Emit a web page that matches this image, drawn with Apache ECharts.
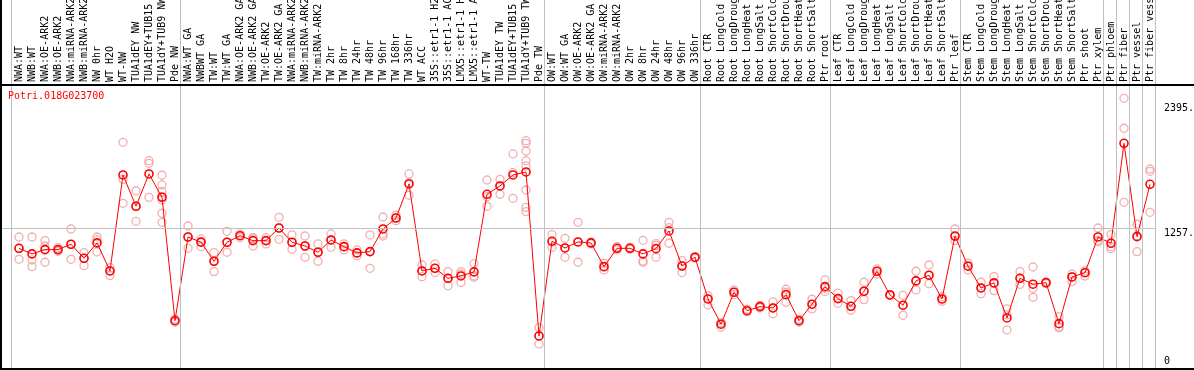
<!DOCTYPE html>
<html><head><meta charset="utf-8">
<script src="https://cdn.jsdelivr.net/npm/echarts@6/dist/echarts.min.js"></script>
<style>html,body{margin:0;padding:0;background:#fff}#c{width:1194px;height:370px}</style>
</head><body><div id="c"></div><script>
const geneId = 'Potri.018G023700';
const categories = [
 'NWA:WT','NWB:WT','NWA:OE-ARK2','NWB:OE-ARK2','NWA:miRNA-ARK2','NWB:miRNA-ARK2','NW 0hr','WT H2O','WT-NW','TUA1dEY NW','TUA1dEY+TUB15 NW','TUA1dY+TUB9 NW','Pde NW',
 'NWA:WT GA','NWBWT GA','TW:WT','TW:WT GA','NWA:OE-ARK2 GA','NWB:OE-ARK2 GA','TW:OE-ARK2','TW:OE-ARK2 GA','NWA:miRNA-ARK2','NWB:miRNA-ARK2','TW:miRNA-ARK2','TW 2hr','TW 8hr','TW 24hr','TW 48hr','TW 96hr','TW 168hr','TW 336hr','WT ACC','35S::etr1-1 H2O','35S::etr1-1 ACC','LMX5::etr1-1 H2O','LMX5::etr1-1 ACC','WT-TW','TUA1dEY TW','TUA1dEY+TUB15 TW','TUA1dY+TUB9 TW','Pde TW',
 'OW:WT','OW:WT GA','OW:OE-ARK2','OW:OE-ARK2 GA','OW:miRNA-ARK2','OW:miRNA-ARK2','OW 2hr','OW 8hr','OW 24hr','OW 48hr','OW 96hr','OW 336hr',
 'Root CTR','Root LongCold','Root LongDrought','Root LongHeat','Root LongSalt','Root ShortCold','Root ShortDrought','Root ShortHeat','Root ShortSalt','Ptr root',
 'Leaf CTR','Leaf LongCold','Leaf LongDrought','Leaf LongHeat','Leaf LongSalt','Leaf ShortCold','Leaf ShortDrought','Leaf ShortHeat','Leaf ShortSalt','Ptr leaf',
 'Stem CTR','Stem LongCold','Stem LongDrought','Stem LongHeat','Stem LongSalt','Stem ShortCold','Stem ShortDrought','Stem ShortHeat','Stem ShortSalt','Ptr shoot',
 'Ptr xylem','Ptr phloem','Ptr fiber','Ptr vessel','Ptr fiber vessel'
];
const means = [
 1072,1021,1060,1060,1109,981,1121,866,1740,1455,1749,1537,413,
 1175,1128,954,1127,1187,1142,1142,1257,1127,1093,1036,1148,1087,1030,1042,1248,1348,1658,866,890,799,820,857,1564,1640,1740,1767,274,
 1136,1075,1130,1121,905,1072,1072,1021,1069,1230,911,991,
 611,381,672,504,541,529,650,413,563,723,
 614,544,681,863,647,554,775,827,611,1184,
 909,711,757,438,799,745,759,386,811,850,
 1175,1118,2028,1178,1655
];
const replicates = [
 [1175,1069,972],[1175,966,905],[1142,1093,945],[1078,1057,1045],[1248,1106,972],[1033,981,914],[1175,1148,1039],[896,866,823],[2037,1700,1482],[1594,1455,1318],[1870,1846,1536],[1737,1649,1588,1542,1512,1391,1309],[426,414,398],
 [1275,1178,1072],[1157,1133,1087],[1033,954,860],[1227,1127,1036],[1203,1187,1169],[1169,1160,1093],[1169,1142,1112],[1354,1257,1154],[1194,1124,1063],[1184,1093,990],[1112,1036,954],[1203,1148,1081],[1112,1087,1057],[1057,1030,1005],[1194,1042,890],[1357,1203,1184],[1373,1348,1324],[1749,1670,1555],[920,866,814],[930,890,851],[860,799,732],[860,838,760],[933,820,808],[1694,1542,1455],[1700,1640,1564],[1931,1761,1527],[2052,2028,1958,1870,1822,1603,1445,1406],[350,274,201],
 [1197,1136,1081],[1163,1075,990],[1309,1130,945],[1130,1121,1112],[936,905,875],[1087,1072,1057],[1081,1072,1063],[1145,957,945],[1115,1099,990],[1309,1260,1118],[960,911,851],[996,990,981],
 [641,611,556],[395,380,353],[693,672,650],[517,505,493],[553,541,529],[584,529,477],[699,672,581],[426,414,401],[608,562,520],[784,708,678],
 [663,614,571],[596,544,508],[763,681,605],[884,863,838],[653,647,641],[644,553,462],[863,775,693],[920,826,750],[632,611,590],[1248,1178,1142],
 [936,914,875],[763,711,659],[814,757,687],[520,465,329],[860,799,744],[902,708,626],[769,760,750],[450,359,347],[838,811,769],[866,851,820],
 [1257,1142,1130],[1197,1087,1069],[2438,2165,1491],[1291,1187,1042],[1794,1773,1400]
];
const groupStarts = [0,13,41,53,63,73,84,85,86,87,88];
const yTickValues = [1257, 2395];
const yTickLabels = ['1257.', '2395.'];
const yZeroValue = [0];
const yZeroLabel = '0';
const refLineValue = 1257;

const FONT = 'DejaVu Sans Mono';
const Y_MIN = -27, Y_MAX = 2559;
const dataXMin = -1 - 5/13, dataXMax = dataXMin + 1154/13;

const scatterData = [];
replicates.forEach((reps, i) => reps.forEach(v => scatterData.push([i, v])));
const meanData = means.map((v, i) => [i, v]);

const chart = echarts.init(document.getElementById('c'), null, {renderer: 'canvas'});
chart.setOption({
  animation: false,
  backgroundColor: '#fff',
  title: {text: geneId, left: 8, top: 91, padding: 0,
    textStyle: {fontFamily: FONT, fontSize: 10, color: '#ff0000', fontWeight: 'normal'}},
  grid: [
    {left: 1, top: 85, width: 1154, height: 284, outerBoundsMode: 'none', containLabel: false},
    {left: 6, top: 85, width: 1157, height: 284, outerBoundsMode: 'none', containLabel: false},
    {left: 6, top: 0, width: 1157, height: 369, outerBoundsMode: 'none', containLabel: false}
  ],
  xAxis: [
    {gridIndex: 0, type: 'value', min: dataXMin, max: dataXMax, show: false},
    {gridIndex: 1, type: 'value', min: -1, max: 88, interval: 1, position: 'top',
     axisLine: {show: false}, axisTick: {show: false}, splitLine: {show: false},
     axisLabel: {rotate: 90, margin: 3, align: 'left', verticalAlign: 'middle',
       fontFamily: FONT, fontSize: 10, color: '#000',
       hideOverlap: false, showMinLabel: true, showMaxLabel: true,
       formatter: v => (categories[Math.round(v)] !== undefined && Math.abs(v - Math.round(v)) < 1e-6) ? categories[Math.round(v)] : ''}},
    {gridIndex: 2, type: 'value', min: -1, max: 88, show: false}
  ],
  yAxis: [
    {gridIndex: 0, type: 'value', min: Y_MIN, max: Y_MAX, show: false},
    {gridIndex: 1, type: 'value', min: Y_MIN, max: Y_MAX, position: 'right',
     axisLine: {show: false}, axisTick: {show: false}, splitLine: {show: false},
     axisLabel: {customValues: yTickValues, formatter: v => yTickLabels[yTickValues.indexOf(v)] || '',
       verticalAlign: 'top', align: 'left', margin: 1, fontFamily: FONT, fontSize: 10, color: '#000'}},
    {gridIndex: 1, type: 'value', min: Y_MIN, max: Y_MAX, position: 'right',
     axisLine: {show: false}, axisTick: {show: false}, splitLine: {show: false},
     axisLabel: {customValues: yZeroValue, formatter: () => yZeroLabel,
       verticalAlign: 'bottom', align: 'left', margin: 1, fontFamily: FONT, fontSize: 10, color: '#000'}},
    {gridIndex: 2, type: 'value', min: 0, max: 1, show: false}
  ],
  series: [
    {type: 'line', xAxisIndex: 2, yAxisIndex: 3, data: [], silent: true, z: 1,
     markLine: {silent: true, symbol: ['none', 'none'], label: {show: false},
       lineStyle: {color: '#c0c0c0', type: 'solid', width: 1},
       data: groupStarts.map(k => ({xAxis: k - 0.62}))}},
    {type: 'line', xAxisIndex: 0, yAxisIndex: 0, data: [], silent: true, z: 1,
     markLine: {silent: true, symbol: ['none', 'none'], label: {show: false},
       lineStyle: {color: '#c0c0c0', type: 'solid', width: 1},
       data: [{yAxis: refLineValue}]}},
    {type: 'scatter', xAxisIndex: 0, yAxisIndex: 0, data: scatterData, silent: true, z: 2,
     symbol: 'circle', symbolSize: 8,
     itemStyle: {color: 'rgba(255,255,255,0)', borderColor: '#ef9a9a', borderWidth: 1.3}},
    {type: 'line', xAxisIndex: 0, yAxisIndex: 0, data: meanData, silent: true, z: 3,
     symbol: 'circle', symbolSize: 8, showSymbol: true,
     itemStyle: {color: 'rgba(255,255,255,0)', borderColor: '#ff0000', borderWidth: 1.6},
     lineStyle: {color: '#ff0000', width: 1}}
  ],
  graphic: [
    {type: 'line', z: 100, shape: {x1: 0, y1: 85, x2: 1194, y2: 85}, style: {stroke: '#000', lineWidth: 2}},
    {type: 'line', z: 100, shape: {x1: 1, y1: 0, x2: 1, y2: 370}, style: {stroke: '#000', lineWidth: 2}},
    {type: 'line', z: 100, shape: {x1: 0, y1: 369, x2: 1194, y2: 369}, style: {stroke: '#000', lineWidth: 2}}
  ]
});
</script></body></html>
